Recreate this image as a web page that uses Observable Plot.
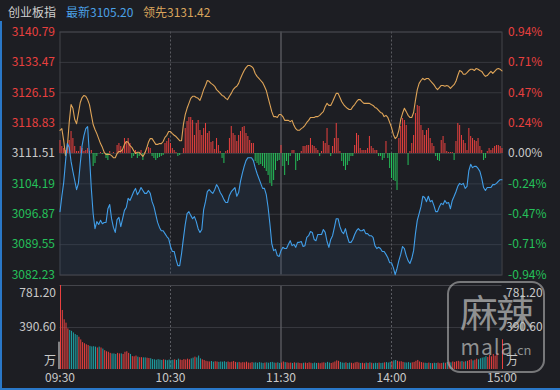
<!DOCTYPE html>
<html><head><meta charset="utf-8">
<script src="https://cdn.jsdelivr.net/npm/d3@7"></script>
<script src="https://cdn.jsdelivr.net/npm/@observablehq/plot@0.6"></script>
<style>
html,body{margin:0;padding:0;background:#1d1e23;}
#wrap{position:relative;width:560px;height:390px;overflow:hidden;background:#1d1e23;font-family:"Noto Sans CJK SC",sans-serif;}
#wrap svg{position:absolute;left:0;top:0;}
.hd{position:absolute;top:3px;font-size:12px;line-height:18px;white-space:nowrap;}
#edge{position:absolute;left:0;top:21px;width:558px;height:367px;border-left:2px solid #2a78c8;border-bottom:2px solid #2a78c8;pointer-events:none;}
#wm{position:absolute;left:447px;top:281px;width:94px;height:88px;border:2px solid rgba(210,210,210,0.5);border-radius:13px;color:rgba(190,190,190,0.72);text-align:center;pointer-events:none;}
#wm .big{font-size:38px;line-height:40px;margin-top:8px;letter-spacing:-2px;}
#wm .small{font-size:21px;line-height:22px;margin-top:4px;letter-spacing:1px;}
#wm .small span{font-size:13px;letter-spacing:0;}
</style></head>
<body>
<div id="wrap">
  <div class="hd" id="h1" style="left:8px;color:#cfcfcf">创业板指</div>
  <div class="hd" id="h2" style="left:66px;color:#4ba0e6"></div>
  <div class="hd" id="h3" style="left:143px;color:#d9a45c"></div>
  <div id="chart"></div>
  <div id="edge"></div>
  <div id="wm"><div class="big">麻辣</div><div class="small">mala<span>.cn</span></div></div>
</div>
<script>
// ---- data ----
const indexName = "创业板指";
const preClose = 3111.51;
const lastPrice = 3105.20;
const leadLast = 3131.42;
const priceTicks = [3140.79, 3133.47, 3126.15, 3118.83, 3111.51, 3104.19, 3096.87, 3089.55, 3082.23];
const pctLabels = ["0.94%", "0.71%", "0.47%", "0.24%", "0.00%", "-0.24%", "-0.47%", "-0.71%", "-0.94%"];
const timeTicks = [0, 60, 120, 180, 240];
const timeLabels = ["09:30", "10:30", "11:30", "14:00", "15:00"];
const volTicks = [781.2, 390.6, 0];
const volLabels = ["781.20", "390.60", "万"];
const openAuctionVol = 254;

const price = [
3097.5,3101.2,3104.5,3109.6,3113.9,3113.0,3109.6,3107.2,3105.0,3102.8,
3104.3,3109.1,3113.4,3115.8,3117.5,3118.0,3111.0,3103.1,3097.0,3093.4,
3095.1,3094.4,3095.4,3094.6,3094.9,3094.9,3098.2,3099.2,3095.8,3093.7,
3092.5,3095.6,3096.1,3093.9,3095.8,3097.8,3098.5,3100.7,3100.2,3101.2,
3102.3,3103.1,3101.6,3102.3,3103.3,3102.6,3101.9,3101.9,3102.6,3101.9,
3099.9,3098.7,3096.8,3094.9,3093.7,3092.9,3092.9,3092.2,3091.5,3091.0,
3089.1,3087.9,3087.9,3086.0,3084.5,3084.5,3087.4,3091.0,3094.4,3097.0,
3097.5,3096.6,3095.8,3096.3,3095.1,3093.4,3092.5,3093.2,3098.0,3099.9,
3102.3,3102.8,3102.3,3101.9,3102.8,3104.0,3103.3,3102.1,3101.4,3100.4,
3099.7,3099.7,3101.4,3102.3,3102.8,3103.3,3101.2,3102.1,3104.8,3106.7,
3108.4,3109.8,3110.5,3110.5,3110.5,3109.8,3108.1,3106.7,3105.5,3104.3,
3103.1,3103.1,3101.6,3098.5,3094.4,3089.8,3088.1,3088.4,3086.9,3086.7,
3088.1,
3088.9,3088.6,3088.6,3089.6,3090.5,3089.3,3089.6,3088.9,3090.1,
3090.1,3090.3,3089.1,3089.3,3091.3,3091.7,3092.7,3092.5,3090.8,3090.5,
3092.0,3092.0,3092.0,3093.2,3092.5,3090.3,3088.9,3090.8,3091.7,3093.7,
3095.8,3095.8,3093.9,3092.7,3092.2,3093.4,3091.5,3090.1,3090.1,3090.8,
3092.0,3092.9,3093.4,3092.9,3092.9,3093.2,3092.2,3092.2,3091.7,3091.7,
3091.3,3089.3,3088.6,3088.9,3088.6,3087.9,3087.9,3087.2,3086.4,3085.2,
3085.2,3084.0,3082.3,3083.8,3085.7,3087.2,3089.1,3088.6,3086.9,3085.7,
3085.0,3086.2,3088.1,3092.2,3095.4,3097.0,3098.7,3101.2,3100.9,3099.9,
3101.2,3099.9,3100.2,3099.0,3097.5,3097.5,3098.7,3099.5,3099.2,3100.2,
3099.5,3099.7,3098.2,3100.2,3101.2,3102.3,3103.6,3104.3,3104.0,3104.3,
3103.1,3103.6,3107.4,3108.9,3108.1,3108.4,3108.4,3107.9,3107.2,3105.5,
3103.3,3102.6,3103.3,3103.3,3103.3,3104.0,3104.0,3104.3,3104.8,3105.2,
3105.2];

const lead = [
3117.1,3117.5,3114.6,3111.0,3113.2,3119.0,3123.3,3122.4,3119.7,3118.7,
3121.2,3123.8,3125.0,3125.5,3125.3,3124.5,3123.3,3120.9,3118.5,3117.3,
3116.3,3115.1,3113.9,3113.0,3111.8,3111.3,3111.3,3111.3,3111.0,3110.5,
3110.5,3111.5,3112.0,3112.0,3112.5,3113.7,3114.4,3114.2,3113.4,3113.0,
3112.2,3111.5,3111.8,3111.8,3111.3,3110.8,3111.5,3112.7,3114.2,3115.1,
3115.1,3114.4,3113.7,3113.7,3113.9,3113.9,3114.4,3115.4,3115.9,3116.8,
3116.8,3116.3,3115.9,3115.6,3115.1,3114.6,3114.6,3118.5,3120.9,3122.4,
3123.6,3124.8,3125.3,3125.3,3125.0,3124.8,3124.3,3125.5,3126.9,3127.9,
3129.1,3128.9,3128.4,3128.1,3127.7,3126.9,3126.5,3126.0,3125.5,3125.3,
3124.8,3124.5,3125.3,3126.0,3126.9,3127.4,3127.7,3128.4,3129.6,3130.6,
3131.5,3132.2,3132.7,3132.7,3132.5,3132.0,3130.8,3130.1,3129.6,3129.1,
3128.6,3127.7,3126.7,3125.0,3123.3,3121.6,3120.4,3120.4,3120.2,3120.9,
3120.9,
3120.4,3119.5,3119.5,3119.5,3119.2,3119.5,3118.3,3117.5,3117.1,
3117.1,3117.5,3117.8,3118.3,3119.0,3119.5,3120.2,3120.2,3120.2,3120.4,
3120.4,3120.7,3121.2,3121.6,3122.8,3123.6,3123.1,3123.1,3124.0,3125.0,
3126.0,3126.0,3125.0,3124.0,3123.3,3122.8,3122.4,3122.1,3122.1,3122.8,
3123.3,3124.0,3124.5,3124.5,3124.0,3123.6,3123.6,3123.6,3123.6,3123.3,
3123.1,3122.6,3122.4,3121.9,3121.4,3121.2,3120.4,3120.7,3120.2,3119.0,
3117.8,3116.1,3115.1,3115.6,3117.1,3119.7,3121.2,3122.4,3121.6,3120.7,
3120.2,3120.2,3121.4,3124.3,3126.9,3128.4,3129.1,3129.6,3129.3,3129.6,
3129.6,3129.1,3128.6,3128.1,3127.4,3126.9,3127.4,3127.9,3127.9,3127.7,
3127.9,3127.7,3127.2,3127.7,3128.1,3128.9,3130.3,3131.5,3131.3,3130.6,
3130.6,3131.0,3131.5,3131.8,3131.8,3131.5,3132.0,3131.8,3131.5,3131.3,
3130.6,3130.1,3130.3,3130.8,3131.3,3130.8,3131.3,3131.8,3132.0,3131.8,
3131.42];

// buy/sell strength bars (drawn around the previous close line)
const strength = [
13,7,5,3,10,13,22,15,7,2,
2,7,5,2,3,5,2,3,-13,-10,
-3,0,1,-1,1,-5,-7,2,0,1,
0,8,10,7,3,15,12,15,10,-5,
-3,3,-5,-3,3,-7,1,0,6,5,
-3,-5,-7,-5,-4,-3,-2,10,12,15,
10,5,3,1,-3,-2,0,5,25,32,
36,36,33,18,30,33,23,18,25,30,
20,22,11,12,4,15,8,2,-5,-10,
2,3,15,27,20,18,12,18,22,26,
27,20,17,13,10,10,-8,-10,-12,-11,
-13,-15,-18,-22,-30,-33,-27,-17,-8,-7,
8,
-13,-22,-8,-12,-3,3,3,-17,-8,
-7,2,7,7,8,8,15,8,7,5,
3,-3,2,12,10,25,8,-3,7,15,
30,15,2,-8,-13,-17,-12,-8,-3,-3,
8,20,18,5,3,3,3,5,17,7,
5,3,3,-3,-3,-7,-5,12,-5,-15,
-25,-27,-28,-37,15,27,35,33,28,-12,
2,10,18,40,48,47,28,23,18,23,
25,15,10,7,-3,-7,-8,13,17,10,
2,1,1,1,-7,12,30,28,18,13,
10,3,25,17,15,13,12,15,7,3,
-7,-5,2,5,3,5,7,8,8,7,
5];
const strengthUnit = 0.241; // index points per strength unit

// volume, 万
const volume = [
781,549,462,431,378,363,355,340,325,316,
300,275,250,240,230,223,215,210,212,208,
200,208,200,190,175,165,160,150,145,145,
140,150,145,145,140,160,165,150,140,120,
118,125,115,110,110,108,108,105,102,100,
92,90,86,92,88,84,90,86,82,88,
84,86,90,84,96,88,84,92,88,96,
90,99,106,115,108,125,99,90,84,76,
72,70,74,68,72,70,66,70,68,72,
66,70,64,68,74,66,62,66,60,64,
62,68,60,58,64,60,62,58,64,60,
56,60,62,58,64,66,60,58,62,56,
60,
70,64,62,58,60,56,62,58,60,
56,54,58,60,56,62,58,54,60,56,
58,54,60,62,58,66,60,56,62,70,
80,76,66,60,58,62,56,60,58,54,
62,66,60,56,58,54,60,56,62,58,
54,58,56,60,56,58,62,64,60,66,
70,80,84,76,70,72,66,62,60,64,
58,62,66,76,84,70,64,60,58,56,
60,56,54,58,56,60,54,56,60,58,
64,68,62,70,66,72,76,70,74,68,
72,76,84,90,80,86,96,90,100,106,
110,120,112,130,118,140,124,146,0,0,
276];

// ---- build ----
document.getElementById("h1").textContent = indexName;
document.getElementById("h2").textContent = "最新" + lastPrice.toFixed(2);
document.getElementById("h3").textContent = "领先" + leadLast.toFixed(2);

const RED = "#e8403f", GREEN = "#25c05a", GRAY = "#c9c9c9", TEAL = "#1fa3a6";
const FONT = '"Noto Sans CJK SC", sans-serif';

const rows = d3.range(price.length).map(i => ({
  t: i, price: price[i], lead: lead[i], s: strength[i], vol: volume[i],
  up: i === 0 ? true : price[i] >= price[i - 1]
}));
const tickRows = priceTicks.map((v, i) => ({v, left: v.toFixed(2), right: pctLabels[i], c: i < 4 ? "up" : (i === 4 ? "flat" : "down")}));
const colorOf = {up: RED, flat: GRAY, down: GREEN};

const labelMarks = [];
for (const c of ["up", "flat", "down"]) {
  const sub = tickRows.filter(r => r.c === c);
  labelMarks.push(Plot.text(sub, {y: "v", text: "left", frameAnchor: "left", textAnchor: "end", dx: -5, fill: colorOf[c], fontSize: 12}));
  labelMarks.push(Plot.text(sub, {y: "v", text: "right", frameAnchor: "right", textAnchor: "start", dx: 6, fill: colorOf[c], fontSize: 12}));
}

const main = Plot.plot({
  width: 560, height: 390,
  marginLeft: 59.5, marginRight: 58.5, marginTop: 31.5, marginBottom: 115.5,
  x: {domain: [0, 240], axis: null},
  y: {domain: [priceTicks[8], priceTicks[0]], axis: null},
  style: {background: "transparent", fontFamily: FONT, fontSize: "12px", overflow: "visible"},
  marks: [
    Plot.ruleY(priceTicks, {stroke: "#37383e"}),
    Plot.ruleX([timeTicks[1], timeTicks[3]], {stroke: "#5a5b61", strokeDasharray: "2,2"}),
    Plot.ruleX([timeTicks[2]], {stroke: "#5e5f64", strokeWidth: 1.3}),
    Plot.frame({stroke: "#44454b"}),
    Plot.areaY(rows, {x: "t", y1: priceTicks[8], y2: "price", fill: "#2b4a70", fillOpacity: 0.2}),
    Plot.ruleX(rows.filter(d => d.s > 0), {x: "t", y1: preClose, y2: d => preClose + d.s * strengthUnit, stroke: RED, strokeWidth: 1}),
    Plot.ruleX(rows.filter(d => d.s < 0), {x: "t", y1: preClose, y2: d => preClose + d.s * strengthUnit, stroke: GREEN, strokeWidth: 1}),
    Plot.line(rows, {x: "t", y: "lead", stroke: "#dea458", strokeWidth: 1.1}),
    Plot.line(rows, {x: "t", y: "price", stroke: "#419ee8", strokeWidth: 1.1}),
    ...labelMarks
  ]
});

const volMarks = [
  Plot.ruleY([volTicks[1]], {stroke: "#37383e"}),
  Plot.ruleX([timeTicks[1], timeTicks[3]], {stroke: "#5a5b61", strokeDasharray: "2,2"}),
  Plot.ruleX([timeTicks[2]], {stroke: "#5e5f64", strokeWidth: 1.3}),
  Plot.ruleY([volTicks[0]], {stroke: "#44454b"}),
  Plot.ruleX([0], {y1: 0, y2: openAuctionVol, stroke: "#e8e8e8", dx: -1}),
  Plot.ruleX(rows.filter(d => d.up), {x: "t", y1: 0, y2: "vol", stroke: RED, dx: 0.5}),
  Plot.ruleX(rows.filter(d => !d.up), {x: "t", y1: 0, y2: "vol", stroke: TEAL, dx: 0.5}),
  Plot.text(timeTicks, {x: d => d, text: (d, i) => timeLabels[i], frameAnchor: "bottom", dy: 12, fill: GRAY, fontSize: 12})
];
const vdy = [8, 0, -8];
volTicks.forEach((v, i) => {
  volMarks.push(Plot.text([v], {y: d => d, text: () => volLabels[i], frameAnchor: "left", textAnchor: "end", dx: -4, dy: vdy[i], fill: GRAY, fontSize: 12}));
  volMarks.push(Plot.text([v], {y: d => d, text: () => volLabels[i], frameAnchor: "right", textAnchor: "start", dx: 4, dy: vdy[i], fill: GRAY, fontSize: 12}));
});

const vol = Plot.plot({
  width: 560, height: 390,
  marginLeft: 59.5, marginRight: 58.5, marginTop: 285, marginBottom: 21,
  x: {domain: [0, 240], axis: null},
  y: {domain: [0, volTicks[0]], axis: null},
  style: {background: "transparent", fontFamily: FONT, fontSize: "12px", overflow: "visible"},
  marks: volMarks
});

const chart = document.getElementById("chart");
chart.appendChild(main);
chart.appendChild(vol);
</script>
</body></html>
